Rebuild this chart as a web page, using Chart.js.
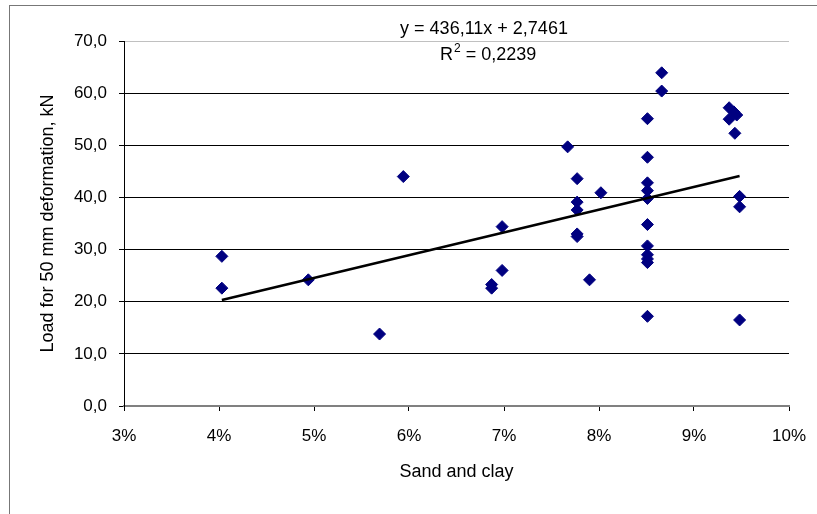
<!DOCTYPE html>
<html>
<head>
<meta charset="utf-8">
<script src="https://cdn.jsdelivr.net/npm/chart.js@4"></script>
<style>
  html, body { margin: 0; padding: 0; background: #fff; overflow: hidden; }
  #wrap { position: relative; width: 817px; height: 514px; }
  #frame { position: absolute; left: 9px; top: 5px; width: 900px; height: 600px;
           border: 1px solid #777; box-sizing: border-box; }
  #chart { position: relative; z-index: 1; }
</style>
</head>
<body>
<div id="wrap">
  <div id="frame"></div>
  <canvas id="chart"></canvas>
</div>
<script>
/* Load at 50 mm deformation vs. sand & clay content, with linear trendline */

// sand and clay content (fraction, shown as %)
const sandClay = [
  0.0403, 0.0403, 0.0494, 0.0569, 0.0594, 0.0687, 0.0687, 0.0698, 0.0698,
  0.0767, 0.0777, 0.0777, 0.0777, 0.0777, 0.0777, 0.0790, 0.0802,
  0.0851, 0.0851, 0.0851, 0.0851, 0.0851, 0.0851, 0.0851, 0.0851, 0.0851, 0.0851, 0.0851,
  0.0866, 0.0866,
  0.0937, 0.0942, 0.0945, 0.0937, 0.0943, 0.0948, 0.0948, 0.0948
];
// load for 50 mm deformation, kN
const loadKN = [
  28.7, 22.6, 24.2, 13.8, 44.0, 23.3, 22.6, 34.4, 26.0,
  49.7, 43.6, 39.1, 37.6, 33.0, 32.5, 24.2, 40.9,
  55.1, 47.7, 42.8, 41.3, 39.8, 34.8, 30.7, 29.0, 28.2, 27.5, 17.2,
  63.9, 60.4,
  57.2, 56.4, 55.8, 55.0, 52.3, 40.2, 38.2, 16.5
];

const trendSlope = 436.11;
const trendIntercept = 2.7461;
const trendR2 = 0.2239;

const xTitle = 'Sand and clay';
const yTitle = 'Load for 50 mm deformation, kN';

const FONT = '"Liberation Sans", Arial, sans-serif';
const fmt = (n, d) => n.toFixed(d).replace('.', ',');
const equationText = `y = ${fmt(trendSlope, 2)}x + ${fmt(trendIntercept, 4)}`;

const points = sandClay.map((x, i) => ({ x, y: loadKN[i] }));
const xLo = Math.min(...sandClay), xHi = Math.max(...sandClay);
const trend = [xLo, xHi].map(x => ({ x, y: trendSlope * x + trendIntercept }));

// equation + R² drawn above the plot area
const trendLabel = {
    id: 'trendLabel',
    afterDraw(chart) {
        const ctx = chart.ctx;
        ctx.save();
        ctx.fillStyle = '#000';
        ctx.textBaseline = 'alphabetic';
        ctx.font = `18px ${FONT}`;
        ctx.textAlign = 'center';
        ctx.fillText(equationText, 484, 34);

        ctx.textAlign = 'left';
        let x = 440;
        ctx.fillText('R', x, 60);
        x += ctx.measureText('R').width + 1;
        ctx.font = `12px ${FONT}`;
        ctx.fillText('2', x, 52);
        x += ctx.measureText('2').width;
        ctx.font = `18px ${FONT}`;
        ctx.fillText(' = ' + fmt(trendR2, 4), x, 60);
        ctx.restore();
    }
};

Chart.defaults.font.family = FONT;
Chart.defaults.color = '#000';

new Chart(document.getElementById('chart').getContext('2d'), {
    type: 'scatter',
    data: {
        datasets: [
            {
                type: 'line', label: 'Linear', data: trend, order: 0,
                borderColor: '#000', borderWidth: 2.6, pointRadius: 0, fill: false
            },
            {
                label: 'Load', data: points, order: 1,
                pointStyle: 'rectRot', pointRadius: 6, pointHoverRadius: 6,
                backgroundColor: '#000080', borderColor: '#000080', borderWidth: 1
            }
        ]
    },
    options: {
        responsive: true, maintainAspectRatio: false, animation: false,
        layout: { padding: { top: 41, right: 28, left: 0, bottom: 0 } },
        plugins: { legend: { display: false }, tooltip: { enabled: false } },
        scales: {
            x: {
                type: 'linear', min: 0.03, max: 0.10,
                // fixed axis height; end labels fit inside the layout padding
                afterFit: s => { s.height = 108; s.paddingLeft = 0; s.paddingRight = 0; },
                ticks: {
                    stepSize: 0.01, padding: 15, maxRotation: 0,
                    font: { size: 17 },
                    callback: v => Math.round(v * 100) + '%'
                },
                grid: { drawOnChartArea: false, tickLength: 5, color: '#000' },
                border: { color: '#808080', width: 2 },
                title: { display: true, text: xTitle, font: { size: 18 }, padding: { top: 0, bottom: 31 } }
            },
            y: {
                min: 0, max: 70,
                afterFit: s => { s.width = 124; },
                ticks: {
                    stepSize: 10, padding: 12,
                    font: { size: 17 },
                    callback: v => fmt(v, 1)
                },
                grid: {
                    tickLength: 5, tickColor: '#000',
                    color: c => c.tick.value === 70 ? '#c0c0c0' : (c.tick.value === 0 ? '#808080' : '#000')
                },
                border: { color: '#000', width: 1 },
                title: { display: true, text: yTitle, font: { size: 18 }, padding: { top: 37, bottom: 0 } }
            }
        }
    },
    plugins: [trendLabel]
});
</script>
</body>
</html>
